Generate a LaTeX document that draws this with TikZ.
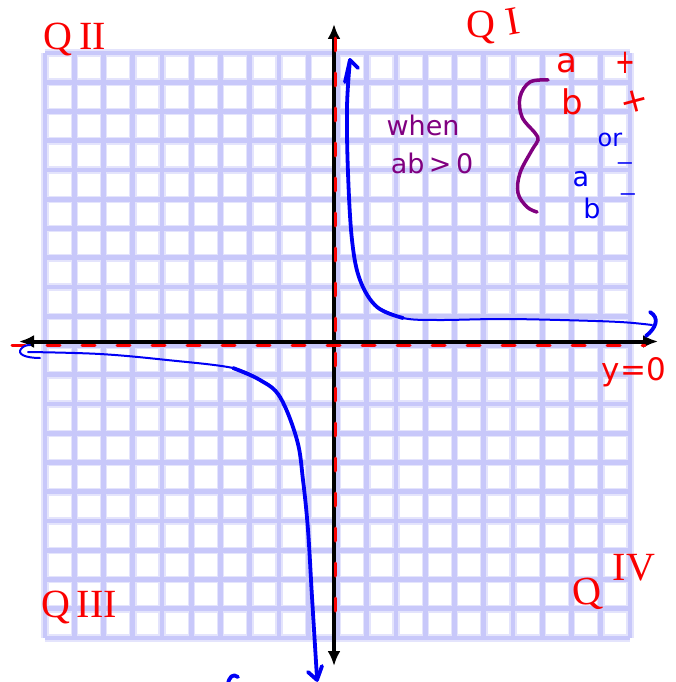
\documentclass[tikz,border=0pt]{standalone}
\usepackage{fontspec}
\setmainfont{DejaVu Sans}
\newfontfamily\qfont{Liberation Serif}
\usetikzlibrary{arrows.meta}
\definecolor{gridc}{RGB}{200,200,250}
\definecolor{gridhalo}{RGB}{228,228,252}
\definecolor{myred}{RGB}{250,0,0}
\definecolor{myblue}{RGB}{0,0,245}
\definecolor{mypurple}{RGB}{128,0,128}
\tikzset{
  gridline/.style={gridc, line width=4.8pt},
  axisline/.style={black, line width=4pt, {Latex[length=15pt,width=13pt]}-{Latex[length=15pt,width=13pt]}},
  asym/.style={myred, line width=3pt, dash pattern=on 13pt off 22pt, line cap=round},
  curvethick/.style={myblue, line width=3.8pt, line cap=round, line join=round},
  curvethin/.style={myblue, line width=2pt, line cap=round, line join=round},
  qlabel/.style={myred, inner sep=0pt, font=\qfont\fontsize{40}{42}\selectfont},
  purptext/.style={mypurple, inner sep=0pt, font=\fontsize{27}{30}\selectfont},
  redtext/.style={myred, inner sep=0pt, font=\fontsize{34}{36}\selectfont},
  bluetext/.style={myblue, inner sep=0pt, font=\fontsize{27}{30}\selectfont},
  bluedash/.style={myblue, inner sep=0pt, font=\fontsize{22}{24}\selectfont},
}
\begin{document}
\begin{tikzpicture}[x=1pt,y=-1pt]
\useasboundingbox (0,0) rectangle (675,682);
% grid
\foreach \i in {0,...,20} {
  \draw[gridhalo, line width=7.5pt] (45+29.25*\i,53) -- (45+29.25*\i,638);
  \draw[gridhalo, line width=7.5pt] (45,53+29.25*\i) -- (630,53+29.25*\i);
}
\foreach \i in {0,...,20} {
  \draw[gridline] (45+29.25*\i,53) -- (45+29.25*\i,638);
  \draw[gridline] (45,53+29.25*\i) -- (630,53+29.25*\i);
}
% axes
\coordinate (ytop) at (334,24);
\coordinate (ybot) at (334,666);
\coordinate (xleft) at (19,341.5);
\coordinate (xright) at (658,341.5);
\draw[axisline] (ybot) -- (ytop);
\draw[axisline] (xleft) -- (xright);
% asymptotes
\coordinate (vat) at (335,38);
\coordinate (vab) at (335,628);
\coordinate (hal) at (12,345);
\coordinate (har) at (645,345);
\draw[asym] (vat) -- (vab);
\draw[asym] (hal) -- (har);
% Q1 branch
\draw[curvethick] plot[smooth, tension=0.6] coordinates {(350,60) (347,107) (348,173) (352,240) (360,280) (377,307) (403,318)};
\draw[curvethin] plot[smooth, tension=0.6] coordinates {(377,307) (403,318) (437,320) (500,319) (560,320) (620,322) (652,325)};
\draw[curvethick] (345,82) -- (350,60) -- (358,68);
\draw[curvethick] (650,312) .. controls (660,318) and (656,328) .. (646,336);
% Q3 branch
\draw[curvethin] plot[smooth, tension=0.6] coordinates {(28,352) (100,354) (167,360) (233,368) (260,380)};
\draw[curvethin] (40,358) .. controls (25,358) and (17,354) .. (21,349) .. controls (23,346) and (27,345) .. (30,345);
\draw[curvethick] plot[smooth, tension=0.6] coordinates {(233,368) (260,380) (280,397) (297,440) (303,480) (308,530) (312,597) (317,678)};
\draw[curvethick] (308,672) -- (317,680) -- (322,666);
\draw[curvethick] (228,684) .. controls (229,677) and (233,673) .. (238,677);
% brace
\draw[mypurple, line width=3.5pt, line cap=round] plot[smooth, tension=0.6] coordinates {(548,80) (530,82) (520,97) (522,117) (535,133) (538,140) (532,150) (520,173) (518,193) (527,207) (537,212)};
% labels
\node[qlabel] (q2) at (75,40) {Q\,II};
\node[qlabel] (q1q) at (481,28) {Q};
\node[qlabel, rotate=10] (q1n) at (513,21) {I};
\node[qlabel] (q3) at (79,607) {Q\,III};
\node[qlabel, rotate=8] (q4q) at (587,595) {Q};
\node[qlabel] (q4n) at (634,568) {IV};
\node[myred, inner sep=0pt, font=\fontsize{31}{33}\selectfont] (y0) at (634,372) {y=0};
\node[purptext] (when) at (423,125) {when};
\node[purptext] (abgt) at (432,163) {ab\,>\,0};
\node[redtext] (ra) at (567,63) {a};
\node[redtext] (rp1) at (625,63) {\scalebox{0.7}[1]{+}};
\node[redtext] (rb) at (572,102) {b};
\node[redtext, rotate=15] (rp2) at (634,102) {+};
\node[bluetext, font=\fontsize{24}{26}\selectfont] (bor) at (610,140) {or};
\node[bluetext] (ba) at (581,179) {a};
\node[bluedash] (bm1) at (625,166) {\scalebox{1.6}[1]{–}};
\node[bluetext] (bb) at (592,208) {b};
\node[bluedash] (bm2) at (628,197) {\scalebox{1.6}[1]{–}};
\end{tikzpicture}
\end{document}
